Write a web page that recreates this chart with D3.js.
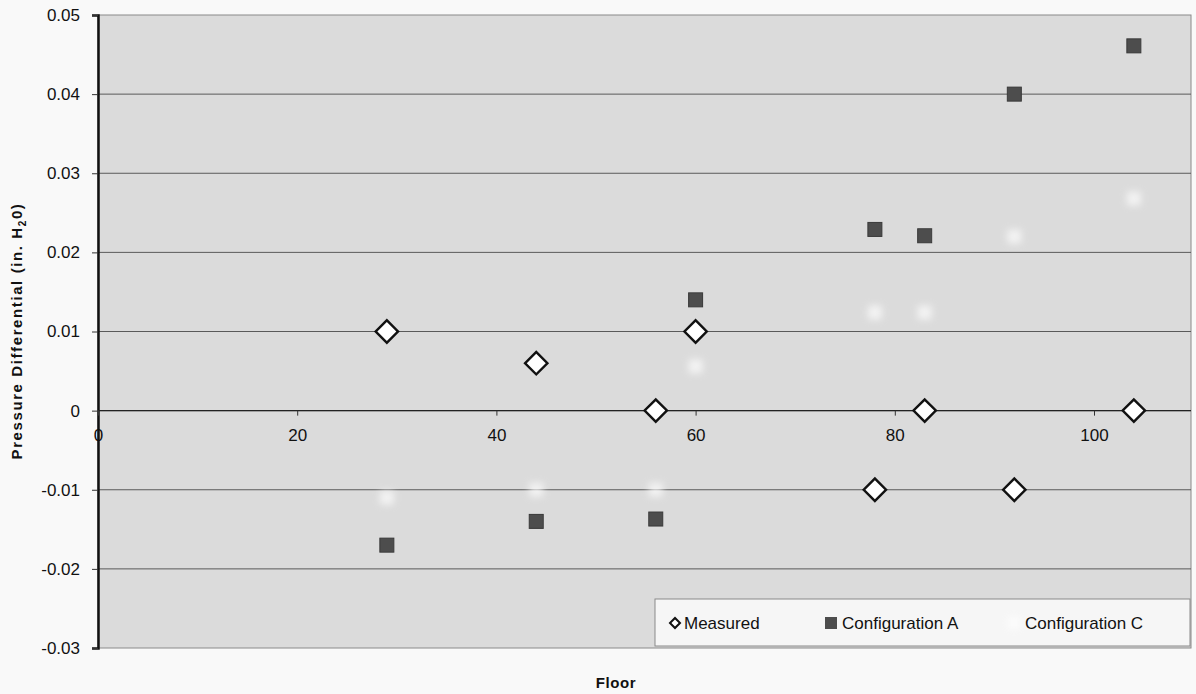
<!DOCTYPE html>
<html><head><meta charset="utf-8">
<script src="https://cdn.jsdelivr.net/npm/d3@7"></script>
<style>
html,body{margin:0;padding:0;background:#f9f9f9;}
text{font-family:Arial,"Liberation Sans",sans-serif;}
</style></head>
<body>
<svg id="chart" width="1196" height="694"></svg>
<script>
const floors = [29, 44, 56, 60, 78, 83, 92, 104];
const measured = [0.01, 0.006, 0, 0.01, -0.01, 0, -0.01, 0];
const configA = [-0.017, -0.014, -0.0137, 0.014, 0.0229, 0.0221, 0.040, 0.0461];
const configC = [-0.011, -0.010, -0.010, 0.0056, 0.0124, 0.0124, 0.022, 0.0268];
const xTicks = [0, 20, 40, 60, 80, 100];
const yTicks = [-0.03, -0.02, -0.01, 0, 0.01, 0.02, 0.03, 0.04, 0.05];
const seriesNames = ["Measured", "Configuration A", "Configuration C"];

const svg = d3.select("#chart");
const L = 98, R = 1191, T = 15, B = 648;
const x = d3.scaleLinear().domain([0, 110]).range([L, L + 110 * 9.96]);
const y = d3.scaleLinear().domain([-0.03, 0.05]).range([B, T]);

const defs = svg.append("defs");
defs.append("filter").attr("id", "blur").attr("x", "-100%").attr("y", "-100%").attr("width", "300%").attr("height", "300%")
  .append("feGaussianBlur").attr("stdDeviation", 3.5);
defs.append("filter").attr("id", "soft").append("feGaussianBlur").attr("stdDeviation", 0.5);

// plot area
svg.append("rect").attr("x", L).attr("y", T).attr("width", R - L).attr("height", B - T)
  .attr("fill", "#dbdbdb").attr("stroke", "#8a8a8a").attr("stroke-width", 1);

// gridlines
svg.append("g").selectAll("line").data(yTicks.filter(d => d > -0.03 && d < 0.05)).join("line")
  .attr("x1", L).attr("x2", R).attr("y1", d => y(d)).attr("y2", d => y(d))
  .attr("stroke", "#5a5a5a").attr("stroke-width", 1);

// y axis
const yAxis = d3.axisLeft(y).tickValues(yTicks).tickSize(6).tickPadding(12)
  .tickFormat(d => d === 0 ? "0" : d3.format(".2f")(d).replace("\u2212", "-"));
const gy = svg.append("g").attr("transform", `translate(${L},0)`).call(yAxis);
gy.attr("font-family", null).attr("font-size", null);
gy.select(".domain").attr("stroke", "#111").attr("stroke-width", 2.5);
gy.selectAll(".tick line").attr("stroke", "#333");
gy.selectAll("text").style("font-size", "17px").attr("fill", "#111");

// x axis on the zero line
const xAxis = d3.axisBottom(x).tickValues(xTicks).tickSize(5).tickPadding(13);
const gx = svg.append("g").attr("transform", `translate(0,${y(0)})`).call(xAxis);
gx.attr("font-family", null).attr("font-size", null);
gx.select(".domain").attr("stroke", "#222").attr("stroke-width", 1.3)
  .attr("d", `M${L},0H${R}`);
gx.selectAll(".tick line").attr("stroke", "#333");
gx.selectAll("text").style("font-size", "17px").attr("fill", "#111");

// Configuration C (faint white blurred)
svg.append("g").selectAll("rect").data(floors.map((f, i) => [f, configC[i]])).join("rect")
  .attr("x", d => x(d[0]) - 7).attr("y", d => y(d[1]) - 7)
  .attr("width", 14).attr("height", 14)
  .attr("fill", "#ffffff").attr("opacity", 0.65).attr("filter", "url(#blur)");

// Configuration A
svg.append("g").selectAll("rect").data(floors.map((f, i) => [f, configA[i]])).join("rect")
  .attr("x", d => x(d[0]) - 7).attr("y", d => y(d[1]) - 7)
  .attr("width", 14).attr("height", 14)
  .attr("fill", "#4d4d4d").attr("stroke", "#3a3a3a").attr("stroke-width", 1)
  .attr("filter", "url(#soft)");

// Measured diamonds
svg.append("g").selectAll("path").data(floors.map((f, i) => [f, measured[i]])).join("path")
  .attr("d", d3.symbol().type(d3.symbolSquare).size(250)())
  .attr("transform", d => `translate(${x(d[0])},${y(d[1])}) rotate(45)`)
  .attr("fill", "#ffffff").attr("stroke", "#111").attr("stroke-width", 2.4);

// legend
const lg = svg.append("g");
lg.append("rect").attr("x", 655).attr("y", 599).attr("width", 535).attr("height", 47)
  .attr("fill", "#f6f6f6").attr("stroke", "#8a8a8a").attr("stroke-width", 1);
lg.append("path").attr("d", d3.symbol().type(d3.symbolSquare).size(50)())
  .attr("transform", `translate(675,623) rotate(45)`)
  .attr("fill", "#fff").attr("stroke", "#111").attr("stroke-width", 2);
lg.append("rect").attr("x", 825).attr("y", 617).attr("width", 12).attr("height", 12)
  .attr("fill", "#4d4d4d");
lg.append("rect").attr("x", 1008).attr("y", 617).attr("width", 12).attr("height", 12)
  .attr("fill", "#fff").attr("opacity", 0.7).attr("filter", "url(#blur)");
const legendTextX = [684, 842, 1025];
lg.selectAll("text.lt").data(seriesNames).join("text").attr("class", "lt")
  .attr("x", (d, i) => legendTextX[i]).attr("y", 629)
  .style("font-size", "17px").attr("fill", "#111").text(d => d);

// axis titles
svg.append("text").attr("x", 616).attr("y", 688).attr("text-anchor", "middle")
  .style("font-size", "15px").attr("font-weight", "bold").attr("letter-spacing", 0.6)
  .attr("fill", "#111").text("Floor");
const yt = svg.append("text").attr("transform", "translate(22,331) rotate(-90)")
  .attr("text-anchor", "middle").style("font-size", "15px").attr("font-weight", "bold")
  .attr("letter-spacing", 1.6).attr("fill", "#111");
yt.append("tspan").text("Pressure Differential (in. H");
yt.append("tspan").style("font-size", "10px").attr("dy", 4).text("2");
yt.append("tspan").attr("dy", -4).text("0)");
</script>
</body></html>
